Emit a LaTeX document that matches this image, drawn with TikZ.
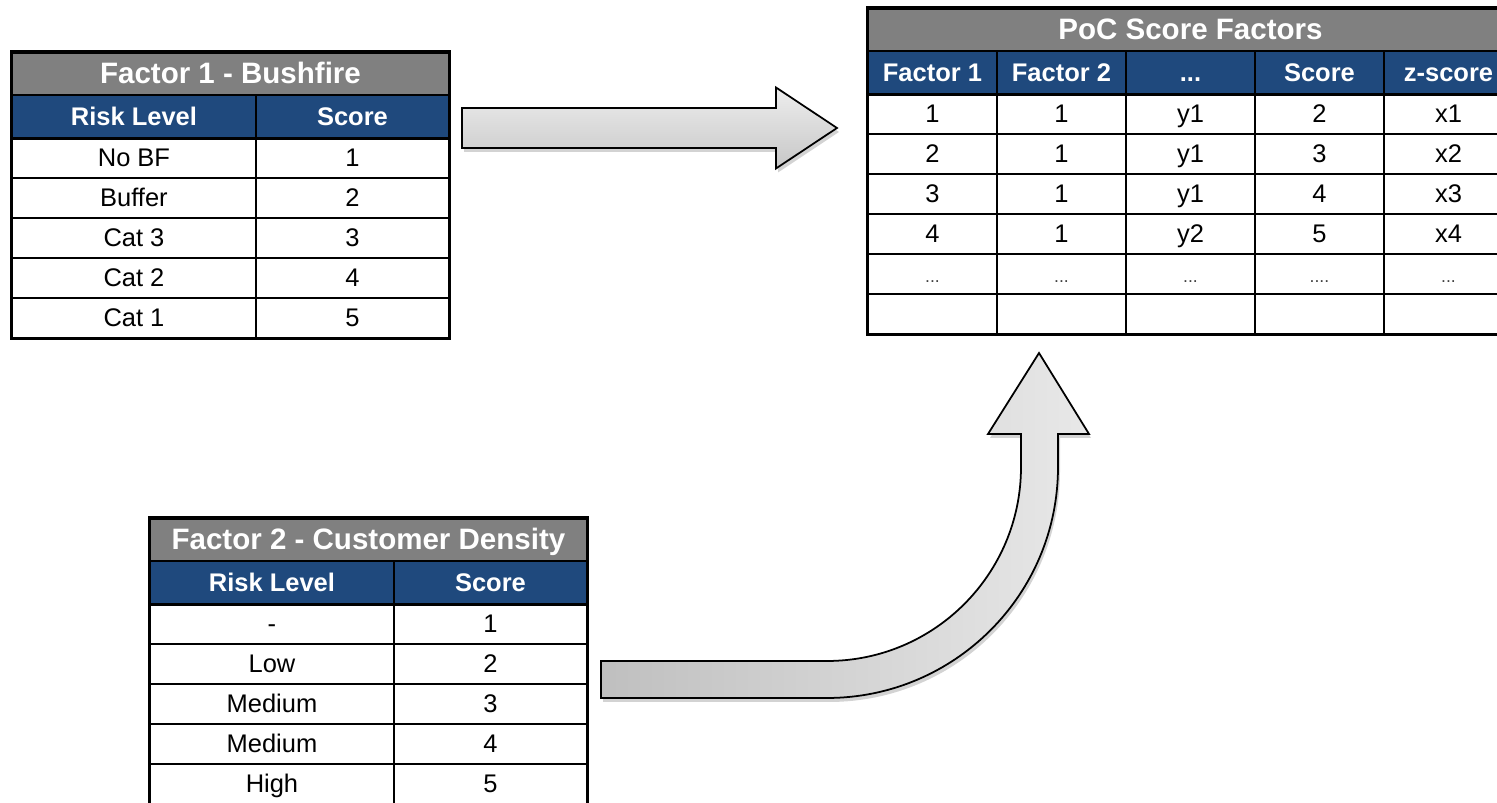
\documentclass[tikz,border=0pt]{standalone}
\usepackage{fontspec}
\setmainfont{Liberation Sans}
\usetikzlibrary{calc,shadows}

\definecolor{hdrblue}{HTML}{1F497D}
\definecolor{ttlgray}{HTML}{808080}

\newcommand{\hdrdots}{...}
\newcommand{\threedots}{{\fontsize{10}{12}\selectfont\color{darkgray}...}}
\newcommand{\fourdots}{{\fontsize{10}{12}\selectfont\color{darkgray}....}}

\tikzset{
  cell/.style={draw=black, line width=1.1pt, anchor=north west, inner sep=0pt,
    minimum height=0.8cm, text height=11.6pt, text depth=1.4pt,
    font=\fontsize{14.5}{17}\selectfont},
  titlecell/.style={cell, fill=ttlgray, text=white, minimum height=0.85cm,
    font=\fontsize{16.8}{20}\selectfont\bfseries},
  headcell/.style={cell, fill=hdrblue, text=white, minimum height=0.85cm,
    font=\fontsize{14.5}{17}\selectfont\bfseries},
  datacell/.style={cell, fill=white},
  frame/.style={draw=black, line width=1.7pt},
  blockarrow/.style={draw=black, line width=1pt, line join=miter,
    drop shadow={opacity=0.35, shadow xshift=0.04cm, shadow yshift=-0.08cm}},
}

\begin{document}
\begin{tikzpicture}[line cap=butt]
\useasboundingbox (0,0) rectangle (29.94,16.06);
\clip (0,0) rectangle (29.94,16.06);

% factor 1 table
\begin{scope}[shift={(0.22,15.02)}]
\node[titlecell, minimum width=8.74cm] (bf-title) at (0,0) {Factor 1 - Bushfire};
\node[headcell, minimum width=4.88cm] (bf-h1) at (0,-0.85) {Risk Level};
\node[headcell, minimum width=3.86cm] (bf-h2) at (4.88,-0.85) {Score};
\foreach \lvl/\sc [count=\i] in {No BF/1, Buffer/2, Cat 3/3, Cat 2/4, Cat 1/5} {
  \node[datacell, minimum width=4.88cm] (bf-\i-1) at (0,{-1.7-0.8*(\i-1)}) {\lvl};
  \node[datacell, minimum width=3.86cm] (bf-\i-2) at (4.88,{-1.7-0.8*(\i-1)}) {\sc};
}
\draw[frame] (bf-h1.south west) -- (bf-h2.south east);
\draw[frame] (bf-title.north west) rectangle (bf-5-2.south east);
\end{scope}

% factor 2 table
\begin{scope}[shift={(2.98,5.7)}]
\node[titlecell, minimum width=8.74cm] (cd-title) at (0,0) {Factor 2 - Customer Density};
\node[headcell, minimum width=4.88cm] (cd-h1) at (0,-0.85) {Risk Level};
\node[headcell, minimum width=3.86cm] (cd-h2) at (4.88,-0.85) {Score};
\foreach \lvl/\sc [count=\i] in {-/1, Low/2, Medium/3, Medium/4, High/5} {
  \node[datacell, minimum width=4.88cm] (cd-\i-1) at (0,{-1.7-0.8*(\i-1)}) {\lvl};
  \node[datacell, minimum width=3.86cm] (cd-\i-2) at (4.88,{-1.7-0.8*(\i-1)}) {\sc};
}
\draw[frame] (cd-h1.south west) -- (cd-h2.south east);
\draw[frame] (cd-title.north west) rectangle (cd-5-2.south east);
\end{scope}

% PoC table
\begin{scope}[shift={(17.34,15.9)}]
\node[titlecell, minimum width=12.9cm] (poc-title) at (0,0) {PoC Score Factors};
\foreach \hd [count=\j] in {Factor 1, Factor 2, \hdrdots, Score, z-score}
  \node[headcell, minimum width=2.58cm] (poc-h\j) at ({2.58*(\j-1)},-0.85) {\hd};
\foreach \row [count=\i] in {{1,1,y1,2,x1},{2,1,y1,3,x2},{3,1,y1,4,x3},{4,1,y2,5,x4},
    {\threedots,\threedots,\threedots,\fourdots,\threedots}}
  \foreach \val [count=\j] in \row
    \node[datacell, minimum width=2.58cm] (poc-\i-\j) at ({2.58*(\j-1)},{-1.7-0.8*(\i-1)}) {\val};
\foreach \j in {1,...,5}
  \node[datacell, minimum width=2.58cm] (poc-6-\j) at ({2.58*(\j-1)},-5.7) {};
\draw[frame] (poc-h1.south west) -- (poc-h5.south east);
\draw[frame] (poc-title.north west) rectangle (poc-6-5.south east);
\end{scope}

% straight arrow
\coordinate (a1s) at (9.24,13.5);
\coordinate (a1t) at (16.74,13.5);
\draw[blockarrow, top color=black!7, bottom color=black!22]
  ($(a1s)+(0,0.4)$) -- ($(a1t)+(-1.22,0.4)$) -- ($(a1t)+(-1.22,0.81)$) -- (a1t)
  -- ($(a1t)+(-1.22,-0.81)$) -- ($(a1t)+(-1.22,-0.4)$) -- ($(a1s)+(0,-0.4)$) -- cycle;

% curved arrow
\draw[blockarrow, left color=black!25, right color=black!9]
  (12.02,2.84) -- (16.54,2.84) arc[start angle=-90, end angle=0, radius=3.88]
  -- (20.42,7.38) -- (19.76,7.38) -- (20.78,9.0) -- (21.78,7.38) -- (21.16,7.38)
  -- (21.16,6.72) arc[start angle=0, end angle=-90, radius=4.62] -- (12.02,2.1) -- cycle;

\end{tikzpicture}
\end{document}
